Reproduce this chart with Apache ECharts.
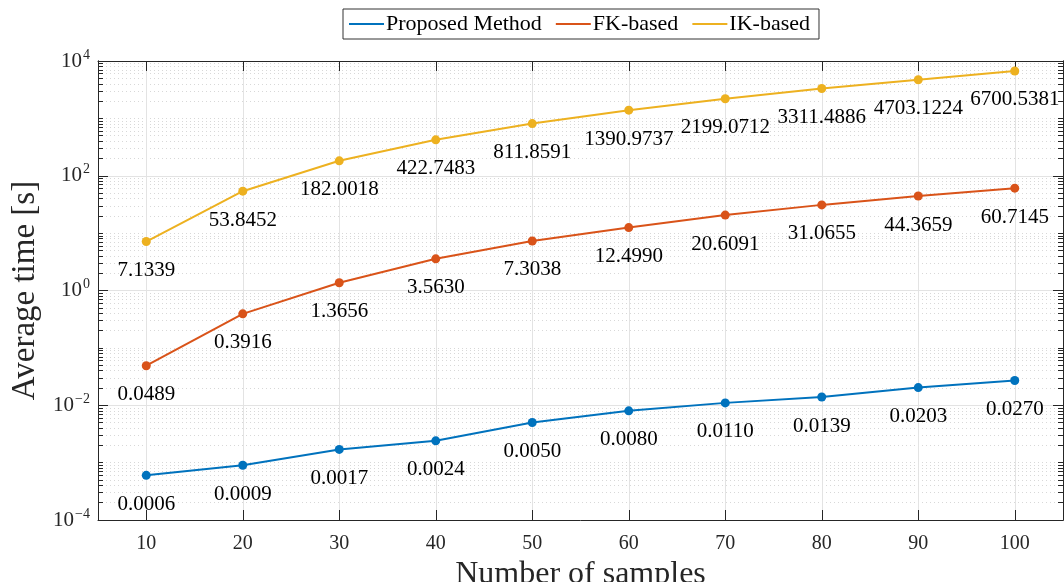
<!DOCTYPE html>
<html>
<head>
<meta charset="utf-8">
<script src="https://cdn.jsdelivr.net/npm/echarts@6/dist/echarts.min.js"></script>
<style>html,body{margin:0;padding:0;background:#fff;}#c{width:1064px;height:582px;}</style>
</head>
<body>
<div id="c"></div>
<script>
const samples = [10, 20, 30, 40, 50, 60, 70, 80, 90, 100];
const proposed = [0.0006, 0.0009, 0.0017, 0.0024, 0.0050, 0.0080, 0.0110, 0.0139, 0.0203, 0.0270];
const fkBased = [0.0489, 0.3916, 1.3656, 3.5630, 7.3038, 12.4990, 20.6091, 31.0655, 44.3659, 60.7145];
const ikBased = [7.1339, 53.8452, 182.0018, 422.7483, 811.8591, 1390.9737, 2199.0712, 3311.4886, 4703.1224, 6700.5381];
const seriesNames = ['Proposed Method', 'FK-based', 'IK-based'];
const seriesColors = ['#0072BD', '#D95319', '#EDB120'];
const xTicks = [10, 20, 30, 40, 50, 60, 70, 80, 90, 100];
const yMajorTicks = [1e-4, 1e-2, 1, 1e2, 1e4];
const yMinorTicks = [];
for (let e = -4; e < 4; e++) {
  for (let k = 1; k <= 9; k++) {
    const v = k * Math.pow(10, e);
    if (k === 1 && e % 2 === 0) continue;
    yMinorTicks.push(v);
  }
}

const FONT = '"Liberation Serif", "DejaVu Serif", serif';
const AX = '#262626';

function yLabel(v) {
  const e = Math.round(Math.log10(v));
  return '{b|10}{s|' + (e < 0 ? '\u2212' + (-e) : e) + '}';
}

const chart = echarts.init(document.getElementById('c'));
const datasets = [proposed, fkBased, ikBased];

const baseY = {
  type: 'log', logBase: 10, min: 1e-4, max: 1e4,
  axisLine: { show: true, lineStyle: { color: AX, width: 1 } },
  axisLabel: { show: false },
  splitLine: { show: false },
  minorTick: { show: false },
  minorSplitLine: { show: false }
};

chart.setOption({
  animation: false,
  backgroundColor: '#fff',
  textStyle: { fontFamily: FONT },
  grid: { left: 98, right: 1, top: 61, bottom: 62, containLabel: false, outerBoundsMode: 'none' },
  legend: {
    left: 343, top: 9,
    padding: [4, 9, 4, 6],
    itemGap: 14,
    itemWidth: 35, itemHeight: 2,
    icon: 'rect',
    borderColor: '#333', borderWidth: 1,
    backgroundColor: '#fff',
    textStyle: { fontFamily: FONT, fontSize: 22, color: '#000', padding: [0, 0, 0, -3] },
    data: seriesNames
  },
  xAxis: [
    {
      type: 'value', min: 5, max: 105, position: 'bottom',
      axisLine: { show: true, onZero: false, lineStyle: { color: AX, width: 1 } },
      axisTick: { show: true, inside: true, length: 10, customValues: xTicks, lineStyle: { color: AX } },
      axisLabel: { show: true, customValues: xTicks, fontSize: 20, color: AX, margin: 14, fontFamily: FONT },
      splitLine: { show: true, lineStyle: { color: '#e3e3e3', width: 1 } },
      name: 'Number of samples', nameLocation: 'middle', nameGap: 38,
      nameTextStyle: { fontSize: 32, color: AX, fontFamily: FONT }
    },
    {
      type: 'value', min: 5, max: 105, position: 'top',
      axisLine: { show: true, onZero: false, lineStyle: { color: AX, width: 1 } },
      axisTick: { show: true, inside: true, length: 10, customValues: xTicks, lineStyle: { color: AX } },
      axisLabel: { show: false },
      splitLine: { show: false }
    }
  ],
  yAxis: [
    Object.assign({}, baseY, {
      position: 'left',
      axisTick: { show: true, inside: true, length: 10, customValues: yMajorTicks, lineStyle: { color: AX } },
      axisLabel: {
        show: true, customValues: yMajorTicks, formatter: yLabel, margin: 8, color: AX,
        rich: {
          b: { fontSize: 21, fontFamily: FONT, color: AX },
          s: { fontSize: 14, fontFamily: FONT, color: AX, padding: [0, 0, 12, 1] }
        }
      },
      splitLine: { show: true, lineStyle: { color: '#e3e3e3', width: 1 } },
      name: 'Average time [s]', nameLocation: 'middle', nameGap: 48, nameRotate: 90,
      nameTextStyle: { fontSize: 33, color: AX, fontFamily: FONT }
    }),
    Object.assign({}, baseY, {
      position: 'left',
      axisTick: { show: true, inside: true, length: 5, customValues: yMinorTicks, lineStyle: { color: AX } },
      splitLine: { show: true, lineStyle: { color: '#d8d8d8', width: 1, type: [1, 3] } }
    }),
    Object.assign({}, baseY, {
      position: 'right',
      axisTick: { show: true, inside: true, length: 10, customValues: yMajorTicks, lineStyle: { color: AX } }
    }),
    Object.assign({}, baseY, {
      position: 'right',
      axisTick: { show: true, inside: true, length: 5, customValues: yMinorTicks, lineStyle: { color: AX } }
    })
  ],
  series: datasets.map((vals, i) => ({
    name: seriesNames[i],
    type: 'line',
    xAxisIndex: 0, yAxisIndex: 0,
    data: samples.map((x, j) => [x, vals[j]]),
    symbol: 'circle', symbolSize: 9,
    lineStyle: { color: seriesColors[i], width: 2 },
    itemStyle: { color: seriesColors[i] },
    label: {
      show: true, position: 'bottom', distance: 14,
      fontSize: 21, fontFamily: FONT, color: '#000',
      formatter: p => p.value[1].toFixed(4)
    },
    z: 3 + i
  }))
});
</script>
</body>
</html>
